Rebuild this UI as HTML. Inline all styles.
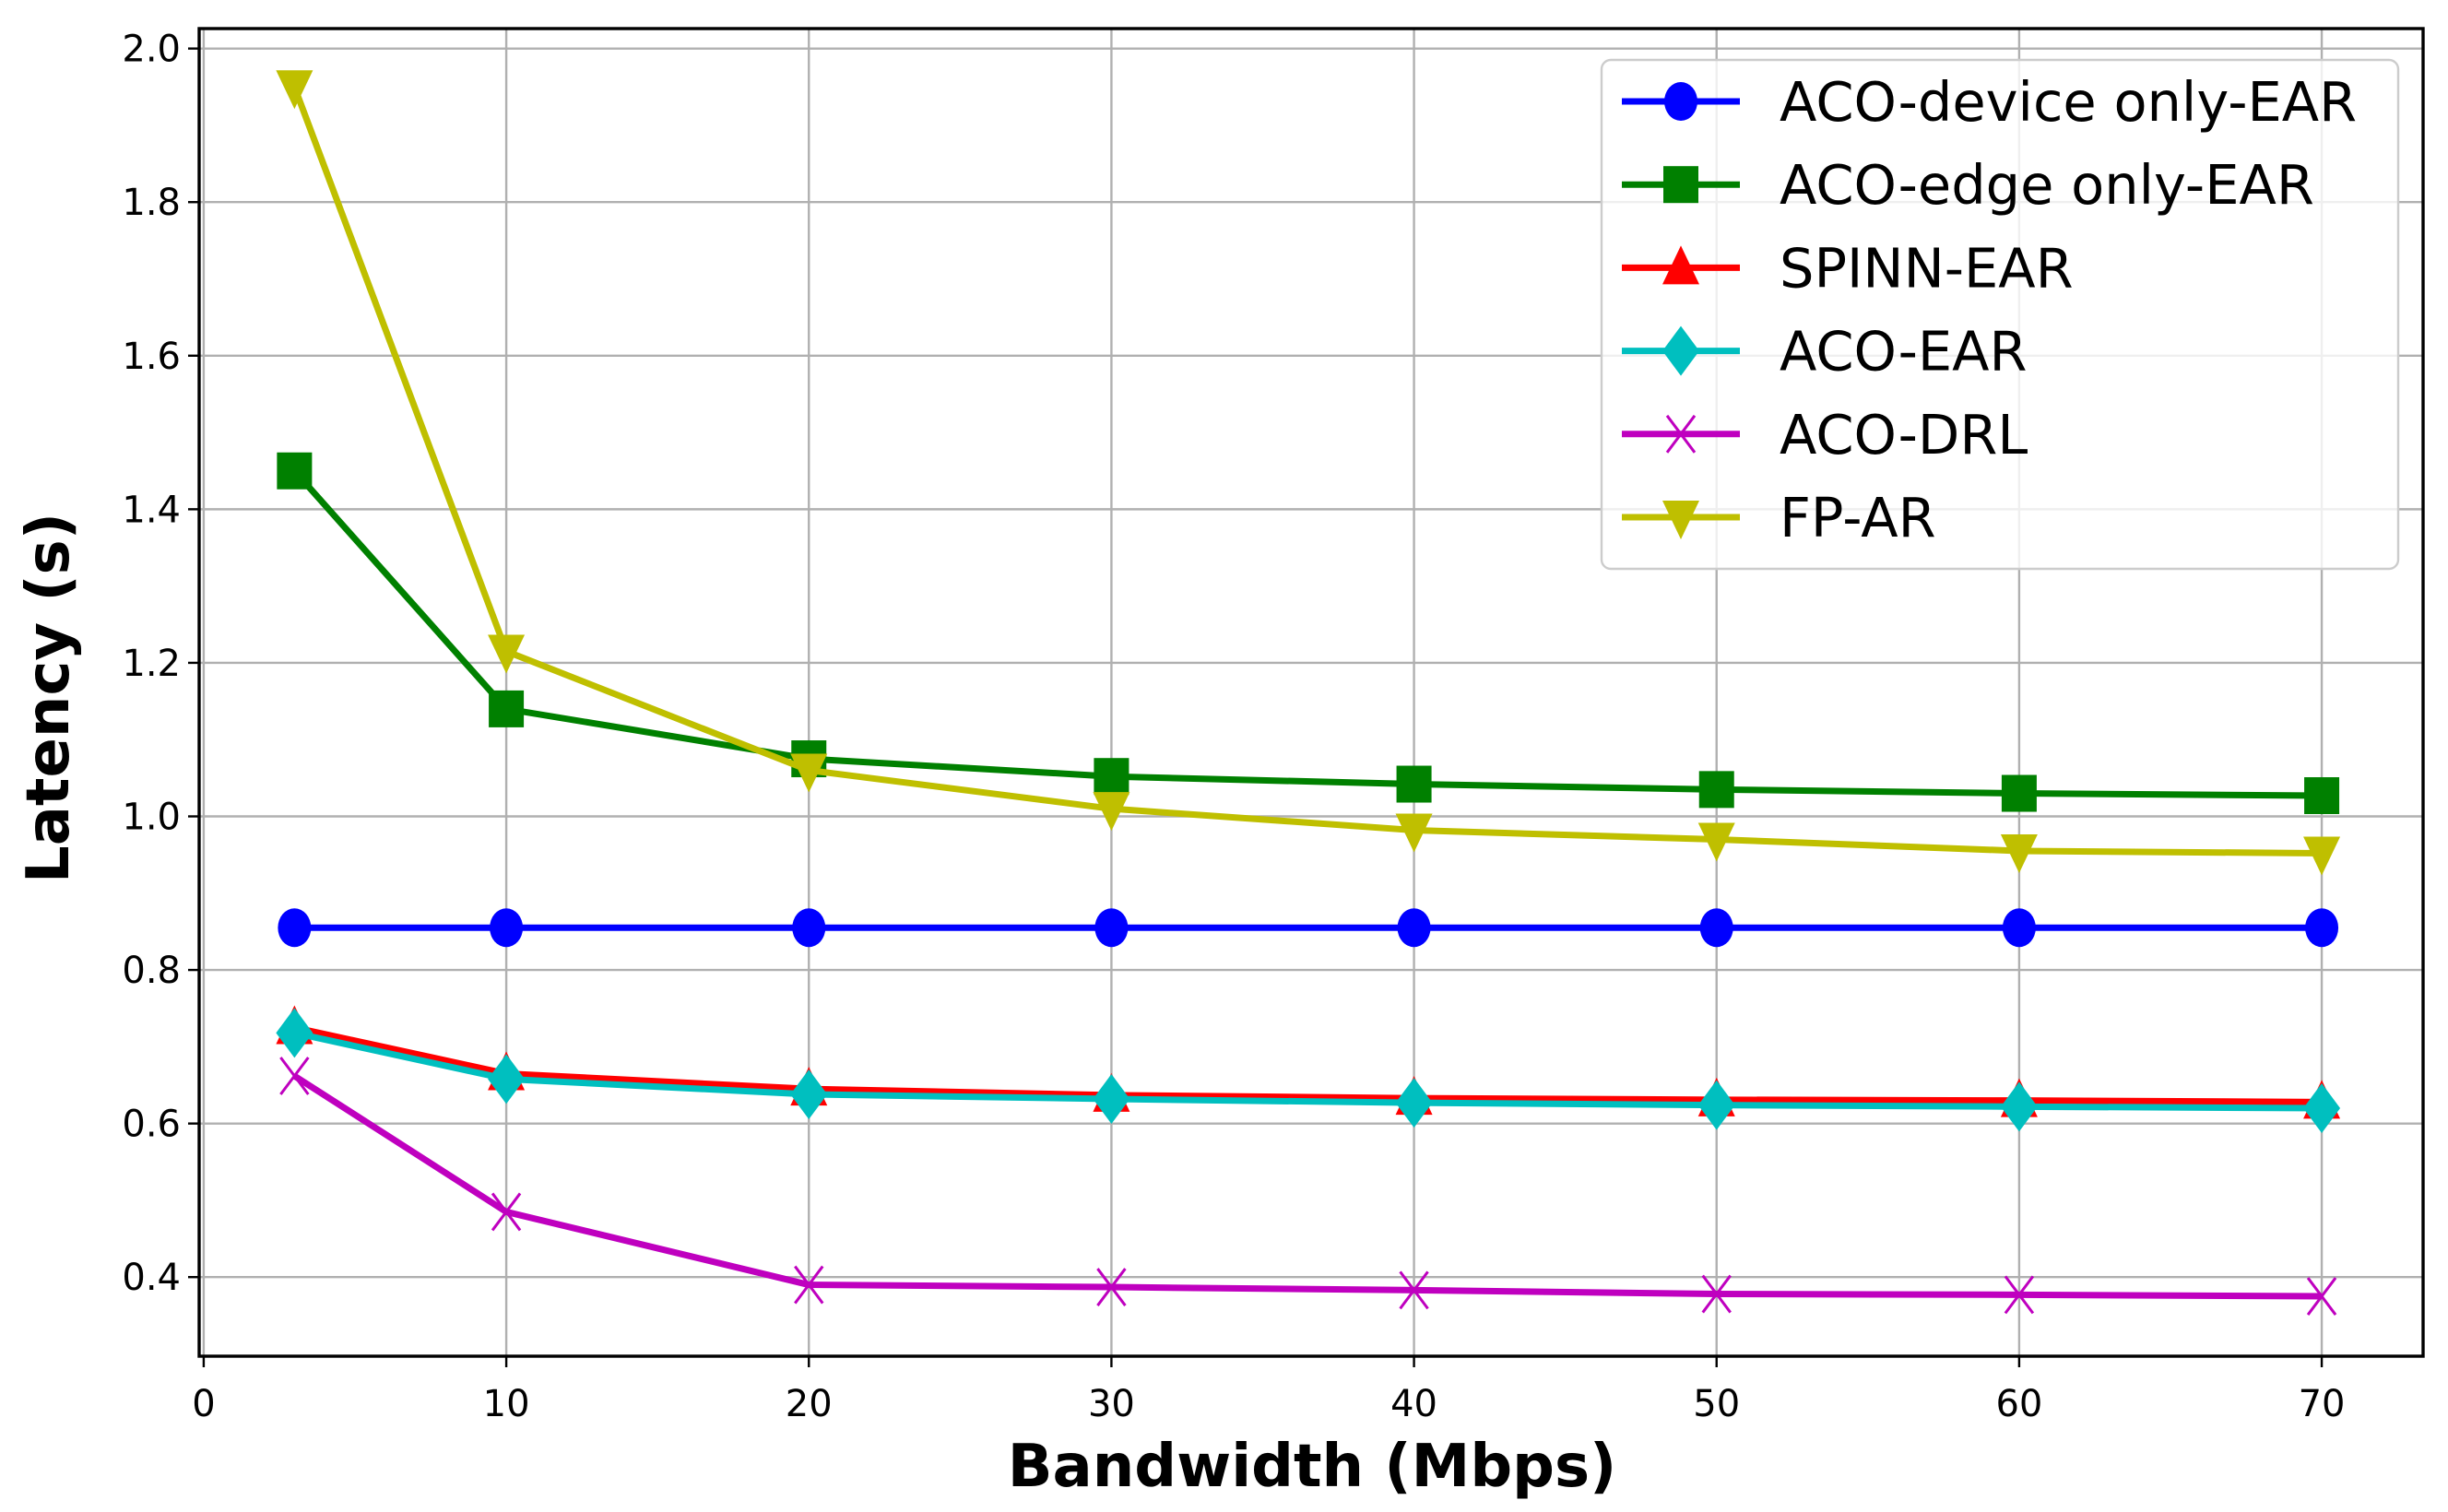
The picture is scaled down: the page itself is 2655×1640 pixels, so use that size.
<!DOCTYPE html>
<html><head><meta charset="utf-8"><style>
html,body{margin:0;padding:0;background:#fff;}
svg{display:block;font-family:"DejaVu Sans","Liberation Sans",sans-serif;}
</style></head><body>
<svg id="chart" width="2655" height="1640" viewBox="0 0 2655 1640" xmlns="http://www.w3.org/2000/svg">
<g id="grid"></g>
<g id="series"></g>
<rect x="216" y="31" width="2412" height="1440" fill="none" stroke="#000" stroke-width="3.4"/>
<g id="ticks"></g>
<text x="1423" y="1612" text-anchor="middle" font-size="64" font-weight="bold">Bandwidth (Mbps)</text>
<text transform="translate(74,757) rotate(-90)" text-anchor="middle" font-size="64" font-weight="bold">Latency (s)</text>
<g id="legend"></g>
</svg>
<script>
const xValues = [3, 10, 20, 30, 40, 50, 60, 70];
const deviceOnly = [0.855, 0.855, 0.855, 0.855, 0.855, 0.855, 0.855, 0.855];
const edgeOnly = [1.45, 1.14, 1.075, 1.052, 1.042, 1.035, 1.030, 1.027];
const spinn = [0.725, 0.665, 0.645, 0.637, 0.633, 0.631, 0.630, 0.628];
const acoEar = [0.718, 0.658, 0.638, 0.632, 0.627, 0.624, 0.622, 0.620];
const acoDrl = [0.662, 0.485, 0.390, 0.387, 0.383, 0.378, 0.377, 0.375];
const fpAr = [1.95, 1.215, 1.06, 1.01, 0.982, 0.97, 0.955, 0.952];
const xTicks = [0, 10, 20, 30, 40, 50, 60, 70];
const yTicks = [0.4, 0.6, 0.8, 1.0, 1.2, 1.4, 1.6, 1.8, 2.0];
const seriesNames = ["ACO-device only-EAR", "ACO-edge only-EAR", "SPINN-EAR", "ACO-EAR", "ACO-DRL", "FP-AR"];

const NS = "http://www.w3.org/2000/svg";
const L = 216, R = 2628, T = 31, B = 1471;
const xMin = -0.15, xMax = 73.35, yMin = 0.297, yMax = 2.026;
function xs(v){ return L + (v - xMin) / (xMax - xMin) * (R - L); }
function ys(v){ return B - (v - yMin) / (yMax - yMin) * (B - T); }
function mk(tag, attrs, parent){ const e = document.createElementNS(NS, tag); for (const k in attrs) e.setAttribute(k, attrs[k]); parent.appendChild(e); return e; }

const grid = document.getElementById('grid');
const ticks = document.getElementById('ticks');
xTicks.forEach(t => {
  const x = xs(t);
  const g = mk('line', {x1:x, x2:x, y1:T, y2:B, stroke:'#b0b0b0', 'stroke-width':2.4}, grid);
  
  
  mk('line', {x1:x, x2:x, y1:B, y2:B+12, stroke:'#000', 'stroke-width':2.4}, ticks);
  const lb = mk('text', {x:x, y:B+65, 'text-anchor':'middle', 'font-size':40}, ticks);
  lb.textContent = t;
  
  
});
yTicks.forEach(t => {
  const y = ys(t);
  const g = mk('line', {x1:L, x2:R, y1:y, y2:y, stroke:'#b0b0b0', 'stroke-width':2.4}, grid);
  
  
  mk('line', {x1:L-12, x2:L, y1:y, y2:y, stroke:'#000', 'stroke-width':2.4}, ticks);
  const lb = mk('text', {x:L-20, y:y+14, 'text-anchor':'end', 'font-size':40}, ticks);
  lb.textContent = t.toFixed(1);
  
  
});

function marker(type, x, y, color, parent){
  const s = 20;
  let e;
  if (type === 'o') e = mk('ellipse', {cx:x, cy:y, rx:s-2, ry:s+1, fill:color}, parent);
  else if (type === 's') e = mk('rect', {x:x-s+1, y:y-s, width:2*s-2, height:2*s, fill:color}, parent);
  else if (type === '^') e = mk('polygon', {points:`${x},${y-s-4} ${x-s},${y+s-2} ${x+s},${y+s-2}`, fill:color}, parent);
  else if (type === 'v') e = mk('polygon', {points:`${x},${y+s+4} ${x-s},${y-s+2} ${x+s},${y-s+2}`, fill:color}, parent);
  else if (type === 'D') e = mk('polygon', {points:`${x},${y-s-7} ${x+s},${y} ${x},${y+s+7} ${x-s},${y}`, fill:color}, parent);
  else if (type === 'x') e = mk('path', {d:`M${x-s+5},${y-s} L${x+s-5},${y+s} M${x+s-5},${y-s} L${x-s+5},${y+s}`, stroke:color, 'stroke-width':3, fill:'none'}, parent);
  return e;
}

const seriesData = [deviceOnly, edgeOnly, spinn, acoEar, acoDrl, fpAr];
const colors = ['#0000ff', '#008000', '#ff0000', '#00bfbf', '#bf00bf', '#bfbf00'];
const markers = ['o', 's', '^', 'D', 'x', 'v'];
const sg = document.getElementById('series');
seriesData.forEach((vals, i) => {
  const g = mk('g', {}, sg);
  
  
  const pts = vals.map((v, j) => xs(xValues[j]) + ',' + ys(v)).join(' ');
  const pl = mk('polyline', {points:pts, fill:'none', stroke:colors[i], 'stroke-width':7, 'stroke-linejoin':'round'}, g);
  
  
  vals.forEach((v, j) => {
    const m = marker(markers[i], xs(xValues[j]), ys(v), colors[i], g);
    
    
  });
});

const lg = document.getElementById('legend');
const box = mk('rect', {x:1737, y:65, width:864, height:552, rx:10, fill:'#fff', 'fill-opacity':0.8, stroke:'#cccccc', 'stroke-width':2.4}, lg);


seriesNames.forEach((n, i) => {
  const y = 110 + i * 90.2;
  const g = mk('g', {}, lg);
  
  
  mk('line', {x1:1759, x2:1887, y1:y, y2:y, stroke:colors[i], 'stroke-width':7}, g);
  marker(markers[i], 1823, y, colors[i], g);
  const t = mk('text', {x:1930, y:y+21, 'font-size':59, textLength: 0}, g);
  t.removeAttribute('textLength');
  t.textContent = n;
});
</script>
</body></html>
